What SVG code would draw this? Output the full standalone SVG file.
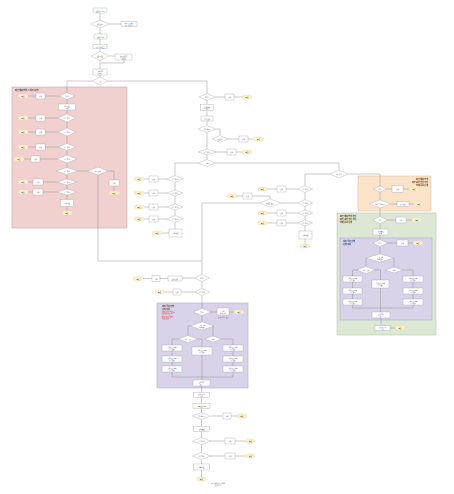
<svg xmlns="http://www.w3.org/2000/svg" width="454" height="494" viewBox="0 0 454 494">
<defs>
<marker id="ar" viewBox="0 0 4 4" refX="4" refY="2" markerWidth="1.6" markerHeight="1.6" orient="auto"><path d="M0,0 L4,2 L0,4 z" fill="#7a7a7a"/></marker>
<style>
.b{fill:#fff;stroke:#9a9a9a;stroke-width:0.35}
.d{fill:#fff;stroke:#9a9a9a;stroke-width:0.35}
.t{fill:#fdefc6;stroke:#ecd9a6;stroke-width:0.3}
.e{fill:none;stroke:#8c8c8c;stroke-width:0.45;marker-end:url(#ar)}
.l{fill:none;stroke:#8c8c8c;stroke-width:0.45}
text{font-family:"Noto Sans CJK KR","Noto Sans",sans-serif;font-size:1.5px;fill:#444;text-anchor:middle;dominant-baseline:central}
.bl{fill:#3344dd}
.hd{font-size:2px;font-weight:bold;fill:#333;text-anchor:start}
.hr{font-size:2px;font-weight:bold;fill:#333;text-anchor:end}
.rd{font-size:1.8px;fill:#e02828;text-anchor:start}
.gp{fill:#f1d0d0;stroke:#c4aaaa;stroke-width:0.6}
.go{fill:#fbe3c9;stroke:#dcc4a8;stroke-width:0.6}
.gg{fill:#dce8d4;stroke:#b8c8ae;stroke-width:0.6}
.gu{fill:#d9d3e9;stroke:#b3abc8;stroke-width:0.6}
</style>
</defs>
<rect width="454" height="494" fill="#fff"/>

<g id="groups">
<g id="grp-pink"><rect class="gp" x="12" y="87" width="115" height="141"/><text class="hd" x="15" y="90">파견 예외 발생 시 처리 (내부)</text></g>
<g id="grp-orange"><rect class="go" x="358" y="176" width="73" height="35"/><text class="hr" x="428" y="179">파견 예외 발생</text><text class="hr" x="428" y="182">외부 요청 승인 확인</text><text class="hr" x="428" y="185">업체 통보 단계</text></g>
<g id="grp-green"><rect class="gg" x="337" y="213" width="99" height="122"/><text class="hd" x="340" y="216">파견 예외 발생 승인</text><text class="hd" x="340" y="219">외부 요청 승인 확인</text><text class="hd" x="340" y="222">업체 통보 단계</text></g>
<g id="grp-purple1"><rect class="gu" x="340" y="238" width="92" height="82"/><text class="hd" x="343" y="241">처리 절차 진행</text><text class="hd" x="343" y="244">단계 적용</text></g>
<g id="grp-purple2"><rect class="gu" x="157" y="303" width="91" height="85"/><text class="hd" x="162" y="306">처리 절차 진행</text><text class="hd" x="162" y="309">단계 적용</text><text class="rd" x="162" y="312">예외 사항 발생 시</text><text class="rd" x="162" y="314.5">담당자 확인 후</text><text class="rd" x="162" y="317">별도 처리 진행</text><text class="rd" x="162" y="319.5">결과 보고</text></g>
</g>

<g id="connectors">
<path class="e" d="M100,13 V20"/><path class="e" d="M100,28 V34"/><path class="e" d="M109.5,24 H121"/>
<path class="e" d="M100,39 V44.5"/><path class="e" d="M100,48.5 V51.5"/><path class="e" d="M109,56 H115"/>
<path class="e" d="M100,60.5 V69"/><path class="e" d="M100,75 V77"/><path class="e" d="M124,60 V63 H101"/>
<path class="e" d="M92,81 H67 V92.5"/><path class="e" d="M108,81 H207 V93.5"/>
<path class="e" d="M59,96 H45"/><path class="e" d="M36,96 H28"/><path class="e" d="M67,99.5 V104"/>
<path class="e" d="M67,110 V114"/><path class="e" d="M58,118 H45"/><path class="e" d="M36,118 H28"/>
<path class="e" d="M67,122 V128"/><path class="e" d="M58,132 H45"/><path class="e" d="M36,132 H28"/>
<path class="e" d="M67,136 V143.5"/><path class="e" d="M58,147 H45"/><path class="e" d="M36,147 H28"/>
<path class="e" d="M67,150.5 V155"/><path class="e" d="M57,159 H40"/><path class="e" d="M31,159 H24"/>
<path class="e" d="M67,163 V167.5"/><path class="e" d="M78,171 H88"/><path class="e" d="M108,171 H114 V180"/><path class="e" d="M114,186 V191"/>
<path class="l" d="M98,175 V261 H202"/>
<path class="e" d="M67,174.5 V179"/><path class="e" d="M57,182 H43"/><path class="e" d="M33,182 H28"/>
<path class="e" d="M67,185 V189"/><path class="e" d="M57,192 H43"/><path class="e" d="M33,192 H28"/>
<path class="e" d="M67,195 V199.5"/><path class="e" d="M67,206.5 V211"/>
<path class="e" d="M215,97 H225"/><path class="e" d="M234,97 H242"/><path class="e" d="M207,100.5 V104.5"/>
<path class="e" d="M207,110.5 V116"/><path class="e" d="M207,121 V125.5"/><path class="e" d="M216,129 H220 V135.5"/>
<path class="e" d="M227.5,139 H239"/><path class="e" d="M248,139 H253"/><path class="e" d="M207,132.5 V149"/>
<path class="e" d="M216,152 H227"/><path class="e" d="M236,152 H242"/><path class="e" d="M207,155 V159.5"/>
<path class="e" d="M198.5,163 H175 V175.5"/><path class="e" d="M215.5,163 H339 V170"/>
<path class="e" d="M166.5,179 H158"/><path class="e" d="M149,179 H144"/><path class="e" d="M175,182.5 V190"/>
<path class="e" d="M167,193 H158"/><path class="e" d="M149,193 H144"/><path class="e" d="M175,196 V204"/>
<path class="e" d="M167,207 H158"/><path class="e" d="M149,207 H144"/><path class="e" d="M175,210 V215.5"/>
<path class="e" d="M166.5,219 H158"/><path class="e" d="M149,219 H144"/><path class="e" d="M175,222.5 V229"/><path class="e" d="M169,233 H162"/>
<path class="e" d="M330,174 H305 V185.5"/><path class="e" d="M348,174 H380 V186"/>
<path class="e" d="M386.5,189 H392"/><path class="e" d="M403,189 H409"/><path class="e" d="M380,192 V200"/>
<path class="e" d="M391,204 H397"/><path class="e" d="M409,204 H414"/><path class="e" d="M380,208 V216.5"/>
<path class="e" d="M387.5,220 H396"/><path class="e" d="M406,220 H412"/><path class="e" d="M380,223.5 V229"/>
<path class="e" d="M380,235 V239.5"/><path class="e" d="M387.5,243 H397"/><path class="e" d="M408,243 H413"/><path class="e" d="M380,246.5 V254"/>
<path class="e" d="M366,258 V266.5"/><path class="e" d="M394,258 V267"/>
<path class="e" d="M357,270 H352.5 V276"/><path class="e" d="M375,270 H380.5 V280"/><path class="e" d="M402.5,270 H413 V276"/>
<path class="e" d="M352.5,282 V288"/><path class="e" d="M352.5,294 V299"/><path class="e" d="M413,282 V288"/><path class="e" d="M413,294 V299"/>
<path class="l" d="M352.5,305 V308 H413 V305"/><path class="e" d="M380.5,288 V312"/>
<path class="e" d="M381,318 V325.5"/><path class="e" d="M390,328 H395"/>
<path class="e" d="M297.5,189 H286"/><path class="e" d="M277,189 H267"/><path class="e" d="M305,192.5 V199.5"/>
<path class="e" d="M297.5,203 H281"/><path class="e" d="M259,203 H202 V274.5"/><path class="e" d="M270,199 V196 H252"/><path class="e" d="M243,196 H237"/>
<path class="e" d="M305,206.5 V210"/><path class="e" d="M297.5,213 H286"/><path class="e" d="M277,213 H267"/>
<path class="e" d="M305,216 V220"/><path class="e" d="M297.5,223 H286"/><path class="e" d="M277,223 H267"/>
<path class="e" d="M305,226 V231"/><path class="e" d="M305,239 V244"/>
<path class="e" d="M194.5,278 H182"/><path class="e" d="M168,278.5 H160"/><path class="e" d="M152,278.5 H143"/>
<path class="e" d="M202,281.5 V288.5"/><path class="e" d="M194.5,292 H181"/><path class="e" d="M173,292 H164"/>
<path class="e" d="M202,295.5 V308.5"/><path class="e" d="M211,312 H217"/><path class="e" d="M229,312 H234"/>
<path class="e" d="M202,315.5 V322"/><path class="e" d="M190,326 H188 V335.5"/><path class="e" d="M214,326 H213 V336"/>
<path class="e" d="M178,339 H172 V345"/><path class="e" d="M198,339 H202 V347"/><path class="e" d="M221.5,339 H233 V345"/>
<path class="e" d="M172,351 V356"/><path class="e" d="M172,362 V366"/><path class="e" d="M233,351 V356"/><path class="e" d="M233,362 V366"/>
<path class="l" d="M172,372 V377 H233 V372"/><path class="e" d="M202,355 V380"/>
<path class="e" d="M201.5,386 V392.5"/><path class="e" d="M201.5,397.5 V403.5"/><path class="e" d="M201.5,408.5 V412.5"/>
<path class="e" d="M211,416 H223"/><path class="e" d="M231,416 H237"/><path class="e" d="M201.5,419.5 V426.5"/>
<path class="e" d="M201.5,431.5 V437.5"/><path class="e" d="M210,441 H225"/><path class="e" d="M235,441 H246"/>
<path class="e" d="M201.5,444.5 V452.5"/><path class="e" d="M210,456 H225"/><path class="e" d="M235,456 H246"/>
<path class="e" d="M201.5,459.5 V464"/><path class="e" d="M201.5,470 V477"/>
</g>

<g id="n-start"><rect class="b" x="93" y="8" width="14" height="5" rx="1.5"/><text x="100" y="10.5">프로세스 시작</text></g>
<g id="n2"><polygon class="d" points="90.5,24 100,20 109.5,24 100,28"/><text x="100" y="24">요청 접수?</text></g>
<g id="n2r"><rect class="b" x="121" y="21.5" width="16" height="5"/><text class="bl" x="129" y="23.2">관련 규정 참조</text><text class="bl" x="129" y="24.9">링크 바로가기</text></g>
<g id="n3"><rect class="b" x="94" y="34" width="13" height="5"/><text x="100.5" y="36.5">요청서 작성</text></g>
<g id="n4"><rect class="b" x="93" y="44.5" width="14" height="4"/><text class="bl" x="100" y="46.5">양식 다운로드</text></g>
<g id="n5"><polygon class="d" points="91,56 100,51.5 109,56 100,60.5"/><text x="100" y="56">검토 완료?</text></g>
<g id="n5r"><rect class="b" x="115" y="54" width="17" height="6"/><text x="123.5" y="56.2">보완 요청 후</text><text x="123.5" y="57.9">재검토</text></g>
<g id="n6"><rect class="b" x="93" y="69" width="14" height="6"/><text x="100" y="71.2">구분 확인</text><text x="100" y="72.9">및 분류</text></g>
<g id="n7"><polygon class="d" points="92,81 100,77 108,81 100,85"/><text x="100" y="81">유형?</text></g>

<g id="p1"><polygon class="d" points="59,96 67,92.5 75,96 67,99.5"/><text x="67" y="96">확인?</text><rect class="b" x="36" y="93" width="9" height="6"/><text x="40.5" y="96">처리</text><rect class="t" x="18" y="94" width="10" height="4" rx="2"/><text x="23" y="96">종료</text></g>
<g id="p2"><rect class="b" x="58.5" y="104" width="17" height="6"/><text x="67" y="106.2">내부 검토</text><text x="67" y="107.9">진행</text></g>
<g id="p3"><polygon class="d" points="58,118 67,114 76,118 67,122"/><text x="67" y="118">조건 확인?</text><rect class="b" x="36" y="115" width="9" height="6"/><text x="40.5" y="118">처리</text><rect class="t" x="18" y="116" width="10" height="4" rx="2"/><text x="23" y="118">종료</text></g>
<g id="p4"><polygon class="d" points="58,132 67,128 76,132 67,136"/><text x="67" y="132">조건 확인?</text><rect class="b" x="36" y="129" width="9" height="6"/><text x="40.5" y="132">처리</text><rect class="t" x="18" y="130" width="10" height="4" rx="2"/><text x="23" y="132">종료</text></g>
<g id="p5"><polygon class="d" points="58,147 67,143.5 76,147 67,150.5"/><text x="67" y="147">조건 확인?</text><rect class="b" x="36" y="144" width="9" height="6"/><text x="40.5" y="147">처리</text><rect class="t" x="18" y="145" width="10" height="4" rx="2"/><text x="23" y="147">종료</text></g>
<g id="p6"><polygon class="d" points="57,159 67,155 77,159 67,163"/><text x="67" y="159">조건 확인?</text><rect class="b" x="31" y="156" width="9" height="6"/><text x="35.5" y="159">처리</text><rect class="t" x="14" y="157" width="10" height="4" rx="2"/><text x="19" y="159">종료</text></g>
<g id="p7"><polygon class="d" points="56,171 67,167.5 78,171 67,174.5"/><text x="67" y="171">조건 확인?</text></g>
<g id="p8"><polygon class="d" points="88,171 98,167 108,171 98,175"/><text x="98" y="171">외부 요청?</text><rect class="b" x="109" y="180" width="10" height="6"/><text x="114" y="183">처리</text><rect class="t" x="109" y="191" width="10" height="4" rx="2"/><text x="114" y="193">종료</text></g>
<g id="p9"><polygon class="d" points="57,182 67,179 77,182 67,185"/><text x="67" y="182">조건 확인?</text><rect class="b" x="33" y="179" width="10" height="6"/><text x="38" y="182">처리</text><rect class="t" x="18" y="180" width="10" height="4" rx="2"/><text x="23" y="182">종료</text></g>
<g id="p10"><polygon class="d" points="57,192 67,189 77,192 67,195"/><text x="67" y="192">조건 확인?</text><rect class="b" x="33" y="189" width="10" height="6"/><text x="38" y="192">처리</text><rect class="t" x="18" y="190" width="10" height="4" rx="2"/><text x="23" y="192">종료</text></g>
<g id="p11"><rect class="b" x="60.5" y="199.5" width="13" height="7"/><text x="67" y="203">처리 완료</text><rect class="t" x="62" y="211" width="10" height="4" rx="2"/><text x="67" y="213">종료</text></g>

<g id="ma"><polygon class="d" points="199,97 207,93.5 215,97 207,100.5"/><text x="207" y="97">확인?</text><rect class="b" x="225" y="94" width="9" height="6"/><text x="229.5" y="97">처리</text><rect class="t" x="242" y="95" width="10" height="4" rx="2"/><text x="247" y="97">종료</text></g>
<g id="mr1"><rect class="b" x="200.5" y="104.5" width="13" height="6"/><text x="207" y="106.7">요청 내용</text><text x="207" y="108.4">검토</text></g>
<g id="mr2"><rect class="b" x="201" y="116" width="12" height="5"/><text x="207" y="118.5">승인 요청</text></g>
<g id="mb"><polygon class="d" points="198,129 207,125.5 216,129 207,132.5"/><text x="207" y="129">승인 여부?</text></g>
<g id="mc"><polygon class="d" points="212.5,139 220,135.5 227.5,139 220,142.5"/><text x="220" y="139">재요청?</text><rect class="b" x="239" y="136" width="9" height="6"/><text x="243.5" y="139">처리</text><rect class="t" x="253" y="137" width="11" height="4" rx="2"/><text x="258.5" y="139">종료</text></g>
<g id="md"><polygon class="d" points="198,152 207,149 216,152 207,155"/><text x="207" y="152">조건 확인?</text><rect class="b" x="227" y="149" width="9" height="6"/><text x="231.5" y="152">처리</text><rect class="t" x="242" y="150" width="10" height="4" rx="2"/><text x="247" y="152">종료</text></g>
<g id="me"><polygon class="d" points="198.5,163 207,159.5 215.5,163 207,166.5"/><text x="207" y="163">구분?</text></g>

<g id="lf"><polygon class="d" points="166.5,179 175,175.5 183.5,179 175,182.5"/><text x="175" y="179">조건 확인?</text><rect class="b" x="149" y="176" width="9" height="6"/><text x="153.5" y="179">처리</text><rect class="t" x="134" y="177" width="10" height="4" rx="2"/><text x="139" y="179">종료</text></g>
<g id="lg"><polygon class="d" points="167,193 175,190 183,193 175,196"/><text x="175" y="193">조건 확인?</text><rect class="b" x="149" y="190" width="9" height="6"/><text x="153.5" y="193">처리</text><rect class="t" x="134" y="191" width="10" height="4" rx="2"/><text x="139" y="193">종료</text></g>
<g id="lh"><polygon class="d" points="167,207 175,204 183,207 175,210"/><text x="175" y="207">조건 확인?</text><rect class="b" x="149" y="204" width="9" height="6"/><text x="153.5" y="207">처리</text><rect class="t" x="134" y="205" width="10" height="4" rx="2"/><text x="139" y="207">종료</text></g>
<g id="li"><polygon class="d" points="166.5,219 175,215.5 183.5,219 175,222.5"/><text x="175" y="219">조건 확인?</text><rect class="b" x="149" y="216" width="9" height="6"/><text x="153.5" y="219">처리</text><rect class="t" x="134" y="217" width="10" height="4" rx="2"/><text x="139" y="219">종료</text></g>
<g id="lj"><rect class="b" x="169" y="229" width="13" height="8"/><text x="175.5" y="233">처리 완료</text><rect class="t" x="152" y="231" width="10" height="4" rx="2"/><text x="157" y="233">종료</text></g>

<g id="rk"><polygon class="d" points="330,174 339,170 348,174 339,178"/><text x="339" y="174">외부 승인?</text></g>
<g id="rl"><polygon class="d" points="297.5,189 305,185.5 312.5,189 305,192.5"/><text x="305" y="189">조건 확인?</text><rect class="b" x="277" y="186" width="9" height="6"/><text x="281.5" y="189">처리</text><rect class="t" x="258" y="187" width="9" height="4" rx="2"/><text x="262.5" y="189">종료</text></g>
<g id="rm"><polygon class="d" points="297.5,203 305,199.5 312.5,203 305,206.5"/><text x="305" y="203">조건 확인?</text></g>
<g id="rw"><polygon class="d" points="259,203 270,199 281,203 270,207"/><text x="270" y="203">재검토 필요?</text><rect class="b" x="243" y="193" width="9" height="6"/><text x="247.5" y="196">처리</text><rect class="t" x="227" y="194" width="10" height="4" rx="2"/><text x="232" y="196">종료</text></g>
<g id="rn"><polygon class="d" points="297.5,213 305,210 312.5,213 305,216"/><text x="305" y="213">조건 확인?</text><rect class="b" x="277" y="210" width="9" height="6"/><text x="281.5" y="213">처리</text><rect class="t" x="258" y="211" width="9" height="4" rx="2"/><text x="262.5" y="213">종료</text></g>
<g id="ro"><polygon class="d" points="297.5,223 305,220 312.5,223 305,226"/><text x="305" y="223">조건 확인?</text><rect class="b" x="277" y="220" width="9" height="6"/><text x="281.5" y="223">처리</text><rect class="t" x="258" y="221" width="9" height="4" rx="2"/><text x="262.5" y="223">종료</text></g>
<g id="rp"><rect class="b" x="299" y="231" width="13" height="8"/><text x="305.5" y="235">처리 완료</text><rect class="t" x="300" y="244" width="10" height="4" rx="2"/><text x="305" y="246">종료</text></g>

<g id="o1"><polygon class="d" points="373.5,189 380,186 386.5,189 380,192"/><text x="380" y="189">확인?</text><rect class="b" x="392" y="185.5" width="11" height="7"/><text x="397.5" y="189">처리</text><rect class="t" x="409" y="187" width="10" height="4" rx="2"/><text x="414" y="189">종료</text></g>
<g id="o2"><polygon class="d" points="369,204 380,200 391,204 380,208"/><text x="380" y="204">외부 승인 여부?</text><rect class="b" x="397" y="201.5" width="12" height="5"/><text class="bl" x="403" y="204">링크 참조</text><rect class="t" x="414" y="202" width="10" height="4" rx="2"/><text x="419" y="204">종료</text></g>
<g id="g1"><polygon class="d" points="372.5,220 380,216.5 387.5,220 380,223.5"/><text x="380" y="220">승인?</text><rect class="b" x="396" y="217" width="10" height="6"/><text x="401" y="220">처리</text><rect class="t" x="412" y="218" width="10" height="4" rx="2"/><text x="417" y="220">종료</text></g>
<g id="g2"><rect class="b" x="373" y="229" width="15" height="6"/><text x="380.5" y="231.2">업체 통보</text><text x="380.5" y="232.9">진행</text></g>
<g id="q1"><polygon class="d" points="372.5,243 380,239.5 387.5,243 380,246.5"/><text x="380" y="243">확인?</text><rect class="b" x="397" y="240" width="11" height="6"/><text x="402.5" y="243">처리</text><rect class="t" x="413" y="241" width="10" height="4" rx="2"/><text x="418" y="243">종료</text></g>
<g id="q2"><polygon class="d" points="366,258 380,254 394,258 380,262"/><text x="380" y="257.2">유형 구분</text><text class="bl" x="380" y="258.9">기준 참조</text></g>
<g id="q3"><polygon class="d" points="357,270 366,266.5 375,270 366,273.5"/><text x="366" y="270">세부 유형?</text></g>
<g id="q4"><polygon class="d" points="385.5,270 394,267 402.5,270 394,273"/><text x="394" y="270">기타?</text></g>
<g id="ql1"><rect class="b" x="343" y="276" width="19" height="6"/><text x="352.5" y="278.2">처리 절차 진행</text><text class="bl" x="352.5" y="279.9">양식 참조</text></g>
<g id="ql2"><rect class="b" x="343" y="288" width="19" height="6"/><text x="352.5" y="290.2">처리 절차 진행</text><text class="bl" x="352.5" y="291.9">양식 참조</text></g>
<g id="ql3"><rect class="b" x="343" y="299" width="19" height="6"/><text x="352.5" y="301.2">처리 절차 진행</text><text class="bl" x="352.5" y="302.9">양식 참조</text></g>
<g id="qm"><rect class="b" x="372" y="280" width="17" height="8"/><text x="380.5" y="283">처리 절차 진행</text><text class="bl" x="380.5" y="285">양식 참조</text></g>
<g id="qr1"><rect class="b" x="403" y="276" width="20" height="6"/><text x="413" y="278.2">처리 절차 진행</text><text class="bl" x="413" y="279.9">양식 참조</text></g>
<g id="qr2"><rect class="b" x="403" y="288" width="20" height="6"/><text x="413" y="290.2">처리 절차 진행</text><text class="bl" x="413" y="291.9">양식 참조</text></g>
<g id="qr3"><rect class="b" x="403" y="299" width="20" height="6"/><text x="413" y="301.2">처리 절차 진행</text><text class="bl" x="413" y="302.9">양식 참조</text></g>
<g id="qmerge"><rect class="b" x="372" y="312" width="18" height="6"/><text x="381" y="314.2">결과 확인</text><text x="381" y="315.9">보고</text></g>
<g id="qblue"><rect class="b" x="375" y="325.5" width="15" height="5"/><text class="bl" x="382.5" y="327.2">결과 보고서</text><text class="bl" x="382.5" y="328.9">양식</text><rect class="t" x="395" y="326" width="10" height="4" rx="2"/><text x="400" y="328">종료</text></g>

<g id="s1"><polygon class="d" points="194.5,278 202,274.5 209.5,278 202,281.5"/><text x="202" y="278">확인?</text><rect class="b" x="168" y="276" width="14" height="5"/><text x="175" y="278.5">보완 요청</text><rect class="b" x="152" y="275.5" width="8" height="6"/><text x="156" y="278.5">처리</text><rect class="t" x="133" y="276.5" width="10" height="4" rx="2"/><text x="138" y="278.5">종료</text></g>
<g id="s2"><polygon class="d" points="194.5,292 202,288.5 209.5,292 202,295.5"/><text x="202" y="292">조건 확인?</text><rect class="b" x="173" y="289" width="8" height="6"/><text x="177" y="292">처리</text><rect class="t" x="155" y="290" width="9" height="4" rx="2"/><text x="159.5" y="292">종료</text></g>
<g id="t1"><polygon class="d" points="193,312 202,308.5 211,312 202,315.5"/><text x="202" y="312">확인?</text><rect class="b" x="217" y="308" width="12" height="7"/><text x="223" y="310.5">처리</text><text x="223" y="312.5" style="fill:#e02828">예외 처리</text><text x="223" y="317">담당자 확인 필요</text><rect class="t" x="234" y="310" width="10" height="4" rx="2"/><text x="239" y="312">종료</text></g>
<g id="t2"><polygon class="d" points="190,326 202,322 214,326 202,330"/><text x="202" y="325.2">유형 구분</text><text class="bl" x="202" y="326.9">기준 참조</text></g>
<g id="t3"><polygon class="d" points="178,339 188,335.5 198,339 188,342.5"/><text x="188" y="339">세부 유형?</text></g>
<g id="t4"><polygon class="d" points="204.5,339 213,336 221.5,339 213,342"/><text x="213" y="339">기타?</text></g>
<g id="tl1"><rect class="b" x="162" y="345" width="20" height="6"/><text x="172" y="347.2">처리 절차 진행</text><text class="bl" x="172" y="348.9">양식 참조</text></g>
<g id="tl2"><rect class="b" x="162" y="356" width="20" height="6"/><text x="172" y="358.2">처리 절차 진행</text><text class="bl" x="172" y="359.9">양식 참조</text></g>
<g id="tl3"><rect class="b" x="162" y="366" width="20" height="6"/><text x="172" y="368.2">처리 절차 진행</text><text class="bl" x="172" y="369.9">양식 참조</text></g>
<g id="tm"><rect class="b" x="192" y="347" width="20" height="8"/><text x="202" y="350">처리 절차 진행</text><text class="bl" x="202" y="352">양식 참조</text></g>
<g id="tr1"><rect class="b" x="223" y="345" width="20" height="6"/><text x="233" y="347.2">처리 절차 진행</text><text class="bl" x="233" y="348.9">양식 참조</text></g>
<g id="tr2"><rect class="b" x="223" y="356" width="20" height="6"/><text x="233" y="358.2">처리 절차 진행</text><text class="bl" x="233" y="359.9">양식 참조</text></g>
<g id="tr3"><rect class="b" x="223" y="366" width="20" height="6"/><text x="233" y="368.2">처리 절차 진행</text><text class="bl" x="233" y="369.9">양식 참조</text></g>
<g id="tmerge"><rect class="b" x="193" y="380" width="17" height="6"/><text x="201.5" y="382.2">결과 확인</text><text x="201.5" y="383.9">보고</text></g>

<g id="u1"><rect class="b" x="193.5" y="392.5" width="16" height="5"/><text class="bl" x="201.5" y="394.2">결과 보고서</text><text class="bl" x="201.5" y="395.9">양식</text></g>
<g id="u2"><rect class="b" x="193" y="403.5" width="17" height="5"/><text x="201.5" y="406">최종 검토 진행</text></g>
<g id="u3"><polygon class="d" points="192.5,416 201.5,412.5 210.5,416 201.5,419.5"/><text x="201.5" y="416">승인 여부?</text><rect class="b" x="223" y="413" width="8" height="6"/><text x="227" y="416">처리</text><rect class="t" x="237" y="414" width="10" height="4" rx="2"/><text x="242" y="416">종료</text></g>
<g id="u4"><rect class="b" x="193.5" y="426.5" width="16" height="5"/><text x="201.5" y="429">결과 통보</text></g>
<g id="u5"><polygon class="d" points="192.5,441 201.5,437.5 210.5,441 201.5,444.5"/><text x="201.5" y="441">조건 확인?</text><rect class="b" x="225" y="438" width="10" height="6"/><text x="230" y="441">처리</text><rect class="t" x="246" y="439" width="9" height="4" rx="2"/><text x="250.5" y="441">종료</text></g>
<g id="u6"><polygon class="d" points="192.5,456 201.5,452.5 210.5,456 201.5,459.5"/><text x="201.5" y="456">조건 확인?</text><rect class="b" x="225" y="453" width="10" height="6"/><text x="230" y="456">처리</text><rect class="t" x="246" y="454" width="9" height="4" rx="2"/><text x="250.5" y="456">종료</text></g>
<g id="u7"><rect class="b" x="193.5" y="464" width="16" height="6"/><text x="201.5" y="467">최종 완료</text></g>
<g id="u8"><rect class="t" x="196.5" y="477" width="10" height="4" rx="2"/><text x="201.5" y="479">종료</text></g>
<g id="note"><text x="218" y="482.5">문서 보관 및 이력 관리</text><text x="218" y="484.5">(담당 부서)</text></g>
</svg>
